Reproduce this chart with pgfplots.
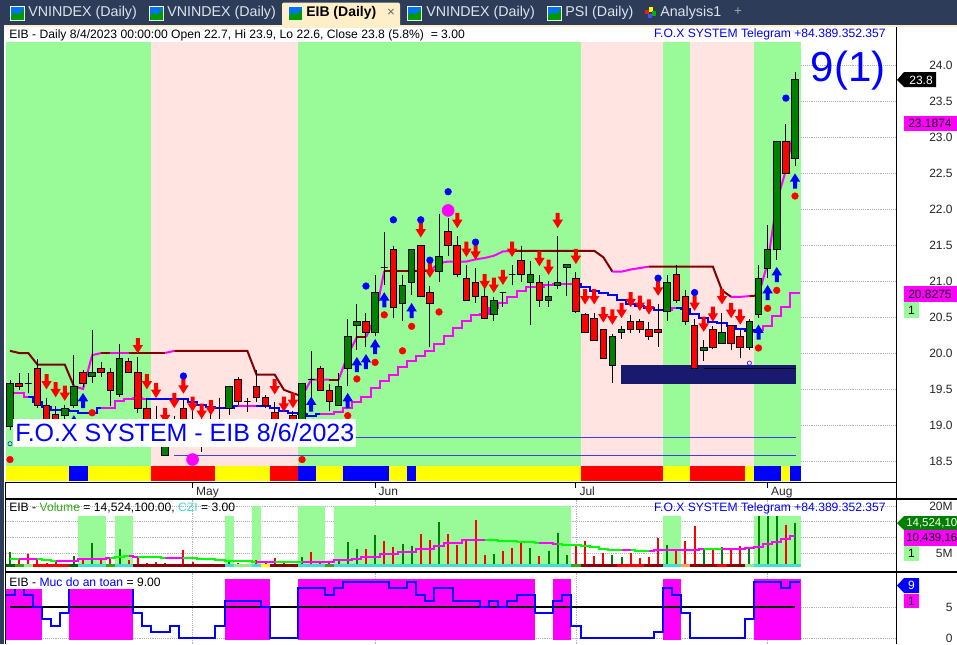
\documentclass[border=0pt]{standalone}
\usepackage{fontspec}
\setmainfont{Liberation Sans}
\usepackage{pgfplots}
\pgfplotsset{compat=1.18}
\definecolor{magenta}{RGB}{255,0,255}
\definecolor{yellow}{RGB}{255,255,0}
\definecolor{red}{RGB}{255,0,0}
\definecolor{blue}{RGB}{0,0,255}
\definecolor{green}{RGB}{0,255,0}
\definecolor{bandg}{RGB}{152,251,152}
\definecolor{bandp}{RGB}{255,228,225}
\definecolor{cgreen}{RGB}{0,128,0}
\definecolor{dred}{RGB}{128,0,0}
\definecolor{navyb}{RGB}{25,25,112}
\definecolor{teal2}{RGB}{64,224,208}
\definecolor{dgreen}{RGB}{0,100,0}
\definecolor{mgreen}{RGB}{50,170,20}
\definecolor{lgreen}{RGB}{144,238,144}
\definecolor{ddred}{RGB}{139,0,0}
\definecolor{orange2}{RGB}{255,160,80}
\definecolor{tabbar}{RGB}{45,60,88}
\definecolor{tabtxt}{RGB}{222,228,238}
\definecolor{creamt}{RGB}{255,239,200}
\definecolor{linec}{RGB}{64,64,224}
\pgfdeclareplotmark{dnarr}{\pgfpathmoveto{\pgfqpoint{-1.5pt}{5.7pt}}\pgfpathlineto{\pgfqpoint{1.5pt}{5.7pt}}\pgfpathlineto{\pgfqpoint{1.5pt}{0.6pt}}\pgfpathlineto{\pgfqpoint{3.9pt}{0.6pt}}\pgfpathlineto{\pgfqpoint{0pt}{-5.7pt}}\pgfpathlineto{\pgfqpoint{-3.9pt}{0.6pt}}\pgfpathlineto{\pgfqpoint{-1.5pt}{0.6pt}}\pgfpathclose\pgfusepathqfill}
\pgfdeclareplotmark{uparr}{\pgfpathmoveto{\pgfqpoint{-1.5pt}{-5.7pt}}\pgfpathlineto{\pgfqpoint{1.5pt}{-5.7pt}}\pgfpathlineto{\pgfqpoint{1.5pt}{-0.6pt}}\pgfpathlineto{\pgfqpoint{3.9pt}{-0.6pt}}\pgfpathlineto{\pgfqpoint{0pt}{5.7pt}}\pgfpathlineto{\pgfqpoint{-3.9pt}{-0.6pt}}\pgfpathlineto{\pgfqpoint{-1.5pt}{-0.6pt}}\pgfpathclose\pgfusepathqfill}
\newcommand{\band}[5]{\addplot[fill=#5,draw=none,forget plot] coordinates {(#1,#3)(#2,#3)(#2,#4)(#1,#4)} -- cycle;}
\newcommand{\cbody}[6]{% i o h l c color
  \addplot[black,line width=.75pt,forget plot] coordinates {(#1,#4)(#1,#3)};
  \pgfmathsetmacro\xa{#1-0.36}\pgfmathsetmacro\xb{#1+0.36}
  \edef\temp{\noexpand\addplot[fill=#6,draw=black,line width=.75pt,forget plot] coordinates {(\xa,#2)(\xb,#2)(\xb,#5)(\xa,#5)} -- cycle;}\temp}
\newcommand{\U}[5]{\cbody{#1}{#2}{#3}{#4}{#5}{cgreen}}
\newcommand{\D}[5]{\cbody{#1}{#2}{#3}{#4}{#5}{red}}
\newcommand{\ltab}[2]{\node[anchor=west,inner sep=0pt,text=tabtxt,font=\fontsize{10.7}{12}\selectfont] at (#1,13) {#2};}
\newcommand{\icon}[1]{\fill[white] (#1,6) rectangle ++(15,15);\fill[blue!55!cyan] (#1+1,7) rectangle ++(13,13);\fill[green!60!black] (#1+1,20)--(#1+1,16)--(#1+5,12)--(#1+8,15)--(#1+14,9)--(#1+14,20)--cycle;}
\pgfplotsset{pane/.style={scale only axis,width=667.5pt,xmin=-0.4382,xmax=97.064,
  axis x line*=bottom,axis y line*=right,axis line style={-,black,line width=.75pt},
  ymajorgrids,grid style={densely dotted,gray!60,line width=.6pt},
  major tick length=0pt,xtick={20,40,62,83},
  tick label style={font=\fontsize{9}{11}\selectfont,text=black!85},
  yticklabel style={anchor=east,xshift=46pt},clip=true}}
\begin{document}
\begin{tikzpicture}
\path[use as bounding box] (0,0) rectangle (717.75pt,-483pt);
\fill[white] (0,0) rectangle (717.75pt,-483pt);
%---------- price pane
\begin{axis}[pane,at={(4.5pt,-361.5pt)},anchor=south west,height=342pt,
  ymin=18.2083,ymax=24.5417,ytick={18.5,19,19.5,20,20.5,21,21.5,22,22.5,23,23.5,24},
  yticklabels={18.5,19.0,19.5,20.0,20.5,21.0,21.5,22.0,22.5,23.0,23.5,24.0},
  xticklabels={May,Jun,Jul,Aug},
  major tick length=4.5pt,tick align=outside,
  x tick style={black,line width=.75pt},y tick style={draw=none},
  yticklabel style={xshift=-4.5pt},
  xticklabel style={anchor=north west,inner sep=1pt,xshift=1.5pt,yshift=2pt}]
\band{-0.5}{15.5}{18.43}{24.32}{bandg}
\band{15.5}{31.5}{18.43}{24.32}{bandp}
\band{31.5}{62.5}{18.43}{24.32}{bandg}
\band{62.5}{71.5}{18.43}{24.32}{bandp}
\band{71.5}{74.5}{18.43}{24.32}{bandg}
\band{74.5}{81.5}{18.43}{24.32}{bandp}
\band{81.5}{86.66}{18.43}{24.32}{bandg}
% bottom colour strip
\band{-0.5}{6.5}{18.22}{18.43}{yellow}
\band{6.5}{8.5}{18.22}{18.43}{blue}
\band{8.5}{15.5}{18.22}{18.43}{yellow}
\band{15.5}{22.5}{18.22}{18.43}{red}
\band{22.5}{28.5}{18.22}{18.43}{yellow}
\band{28.5}{31.5}{18.22}{18.43}{red}
\band{31.5}{33.5}{18.22}{18.43}{blue}
\band{33.5}{36.5}{18.22}{18.43}{yellow}
\band{36.5}{41.5}{18.22}{18.43}{blue}
\band{41.5}{43.5}{18.22}{18.43}{yellow}
\band{43.5}{44.5}{18.22}{18.43}{blue}
\band{44.5}{62.5}{18.22}{18.43}{yellow}
\band{62.5}{71.5}{18.22}{18.43}{red}
\band{71.5}{74.5}{18.22}{18.43}{yellow}
\band{74.5}{80.5}{18.22}{18.43}{red}
\band{80.5}{81.5}{18.22}{18.43}{yellow}
\band{81.5}{84.5}{18.22}{18.43}{blue}
\band{84.5}{85.5}{18.22}{18.43}{yellow}
\band{85.5}{86.66}{18.22}{18.43}{blue}
% thin level lines
\addplot[linec,line width=.75pt] coordinates {(18,18.83)(86.1,18.83)};
\addplot[linec,line width=.75pt] coordinates {(18,18.58)(86.1,18.58)};
\addplot[only marks,mark=o,blue,mark size=1.6pt] coordinates {(0,18.74)(81,19.86)};
\band{66.9}{86.1}{19.57}{19.83}{navyb}
\addplot[black!70!navyb,line width=.75pt] coordinates {(76,19.79)(86.1,19.79)};
% upper line
\addplot[dred,line width=1.5pt] coordinates {(0,20.03)(1,20)(2,20)(3,19.84)(4,19.84)(5,19.84)(6,19.84)(7,19.54)};
\addplot[magenta,line width=1.5pt] coordinates {(7,19.54)(8,19.5)(9,19.97)(10,20)};
\addplot[dred,line width=1.5pt] coordinates {(10,20)(11,20)};
\addplot[magenta,line width=1.5pt] coordinates {(11,20)(13,20)};
\addplot[dred,line width=1.5pt] coordinates {(13,20)(17,20)};
\addplot[magenta,line width=1.5pt] coordinates {(17,20)(18,20.03)};
\addplot[dred,line width=1.5pt] coordinates {(18,20.03)(26,20.03)(27,19.70)(28,19.70)(29,19.70)(30,19.49)(31,19.44)(32,19.40)};
\addplot[magenta,line width=1.5pt] coordinates {(32,19.40)(33,19.63)(34,19.63)(35,19.63)};
\addplot[dred,line width=1.5pt] coordinates {(35,19.63)(36,19.63)};
\addplot[magenta,line width=1.5pt] coordinates {(36,19.63)(37,19.97)(38,20.22)};
\addplot[dred,line width=1.5pt] coordinates {(38,20.22)(39,20.22)};
\addplot[magenta,line width=1.5pt] coordinates {(39,20.22)(40,20.5)(41,21.14)};
\addplot[dred,line width=1.5pt] coordinates {(41,21.14)(46,21.14)};
\addplot[magenta,line width=1.5pt] coordinates {(46,21.14)(47,21.25)(48,21.27)(49,21.27)(50,21.27)(51,21.30)(52,21.32)(53,21.35)(54,21.41)(55,21.42)};
\addplot[dred,line width=1.5pt] coordinates {(55,21.42)(64,21.42)(65,21.33)(66,21.13)};
\addplot[magenta,line width=1.5pt] coordinates {(66,21.13)(67,21.13)(68,21.16)(69,21.18)(70,21.20)};
\addplot[dred,line width=1.5pt] coordinates {(70,21.2)(77,21.2)(78,20.87)(79,20.78)};
\addplot[magenta,line width=1.5pt] coordinates {(79,20.78)(80,20.78)(81,20.79)};
\addplot[dred,line width=1.5pt] coordinates {(81,20.79)(82,20.80)};
\addplot[magenta,line width=1.5pt] coordinates {(82,20.8)(83,21.25)(84,22.1)(85,22.54)(86,23.187)};
% lower staircase
\addplot[magenta,line width=1.5pt,const plot mark mid] coordinates {(-0.5,19.44)(0,19.44)(1,19.44)(2,19.39)};
\addplot[blue,line width=1.5pt,const plot mark mid] coordinates {(2,19.39)(3,19.32)(4,19.25)(5,19.21)(6,19.21)(7,19.19)(8,19.17)(9,19.17)(10,19.23)};
\addplot[magenta,line width=1.5pt,const plot mark mid] coordinates {(10,19.23)(11,19.23)(12,19.33)(13,19.36)(14,19.37)(15,19.36)};
\addplot[blue,line width=1.5pt,const plot mark mid] coordinates {(15,19.36)(16,19.36)(17,19.36)(18,19.36)(19,19.36)(20,19.315)(21,19.28)(22,19.255)(23,19.235)(24,19.235)(25,19.26)};
\addplot[magenta,line width=1.5pt,const plot mark mid] coordinates {(25,19.26)(26,19.26)(27,19.26)};
\addplot[blue,line width=1.5pt,const plot mark mid] coordinates {(27,19.26)(28,19.26)(29,19.23)(30,19.19)(31,19.16)(32,19.15)(33,19.13)(34,19.15)};
\addplot[magenta,line width=1.5pt,const plot mark mid] coordinates {(34,19.15)(35,19.15)(36,19.18)(37,19.23)(38,19.32)(39,19.39)(40,19.51)(41,19.61)(42,19.69)(43,19.80)(44,19.89)(45,19.96)(46,20.03)(47,20.12)(48,20.24)(49,20.35)(50,20.45)(51,20.53)(52,20.54)(53,20.63)(54,20.69)(55,20.78)(56,20.86)(57,20.91)(58,20.91)(59,20.94)(60,20.96)(61,20.96)(62,20.96)};
\addplot[blue,line width=1.5pt,const plot mark mid] coordinates {(62,20.96)(63,20.92)(64,20.86)(65,20.83)(66,20.80)(67,20.74)(68,20.68)(69,20.65)(70,20.63)(71,20.6)(72,20.6)};
\addplot[magenta,line width=1.5pt,const plot mark mid] coordinates {(72,20.6)(73,20.63)};
\addplot[blue,line width=1.5pt,const plot mark mid] coordinates {(73,20.63)(74,20.61)(75,20.54)(76,20.48)(77,20.43)(78,20.42)(79,20.37)(80,20.34)(81,20.30)(82,20.32)};
\addplot[magenta,line width=1.5pt,const plot mark mid] coordinates {(82,20.32)(83,20.375)(84,20.51)(85,20.64)(86,20.8275)(86.6,20.8275)};
% candles
\U{0}{18.98}{19.63}{18.93}{19.58}
\D{1}{19.58}{19.72}{19.49}{19.53}
\D{2}{19.58}{19.72}{19.44}{19.58}
\D{3}{19.79}{19.91}{19.24}{19.27}
\D{4}{19.27}{19.37}{18.95}{19.0}
\D{5}{19.14}{19.26}{18.95}{19.0}
\U{6}{19.13}{19.28}{19.05}{19.23}
\U{7}{19.27}{19.97}{19.24}{19.54}
\D{8}{19.73}{19.77}{19.53}{19.57}
\U{9}{19.67}{20.32}{19.58}{19.73}
\D{10}{19.79}{19.87}{19.67}{19.73}
\D{11}{19.73}{19.79}{19.27}{19.48}
\U{12}{19.43}{20.12}{19.39}{19.93}
\D{13}{19.88}{19.93}{19.73}{19.73}
\D{14}{19.73}{19.95}{19.16}{19.23}
\D{15}{19.23}{19.37}{18.9}{18.95}
\D{16}{19.0}{19.26}{18.85}{19.0}
\U{17}{18.57}{19.23}{18.57}{19.0}
\D{18}{19.0}{19.12}{18.85}{18.92}
\D{19}{19.23}{19.37}{18.85}{18.95}
\D{20}{19.0}{19.29}{18.7}{18.92}
\D{21}{19.0}{19.29}{18.63}{18.9}
\D{22}{19.0}{19.32}{18.69}{18.92}
\D{23}{19.0}{19.37}{18.75}{18.92}
\U{24}{19.23}{19.53}{19.14}{19.53}
\D{25}{19.63}{19.67}{19.28}{19.32}
\D{26}{19.32}{19.37}{19.18}{19.32}
\D{27}{19.53}{19.77}{19.32}{19.38}
\D{28}{19.38}{19.42}{19.23}{19.27}
\D{29}{19.18}{19.32}{18.95}{19.0}
\D{30}{19.02}{19.08}{18.9}{18.95}
\D{31}{19.13}{19.2}{18.9}{18.95}
\U{32}{18.72}{19.58}{18.72}{19.58}
\D{33}{19.63}{20.03}{19.35}{19.63}
\D{34}{19.79}{19.82}{19.48}{19.48}
\D{35}{19.48}{19.57}{19.19}{19.32}
\U{36}{19.27}{19.72}{19.27}{19.54}
\U{37}{19.79}{20.47}{19.54}{20.23}
\U{38}{20.38}{20.68}{20.04}{20.44}
\D{39}{20.44}{20.56}{20.09}{20.28}
\U{40}{20.28}{21.08}{20.23}{20.84}
\D{41}{21.19}{21.68}{20.95}{21.19}
\D{42}{21.44}{21.49}{20.49}{20.63}
\U{43}{20.69}{21.08}{20.45}{20.94}
\U{44}{20.98}{21.44}{20.80}{21.44}
\D{45}{21.49}{21.5}{20.78}{20.78}
\D{46}{20.84}{20.93}{20.09}{20.69}
\U{47}{21.13}{21.93}{20.99}{21.34}
\D{48}{21.69}{21.87}{21.35}{21.49}
\D{49}{21.49}{21.62}{21.05}{21.09}
\D{50}{21.04}{21.22}{20.73}{20.73}
\D{51}{20.98}{21.18}{20.70}{20.78}
\D{52}{20.79}{20.92}{20.48}{20.48}
\U{53}{20.53}{20.78}{20.45}{20.73}
\D{54}{20.84}{20.84}{20.64}{20.84}
\D{55}{21.09}{21.22}{20.94}{21.09}
\D{56}{21.29}{21.49}{20.99}{21.09}
\U{57}{20.98}{21.28}{20.39}{21.09}
\D{58}{20.98}{21.08}{20.64}{20.73}
\U{59}{20.73}{21.0}{20.64}{20.79}
\U{60}{20.94}{21.62}{20.89}{20.98}
\U{61}{21.19}{21.23}{20.79}{21.23}
\D{62}{21.04}{21.12}{20.55}{20.57}
\D{63}{20.54}{20.56}{20.28}{20.28}
\D{64}{20.48}{20.56}{20.18}{20.18}
\D{65}{20.33}{20.33}{19.92}{19.92}
\U{66}{19.82}{20.27}{19.59}{20.23}
\U{67}{20.28}{20.37}{20.2}{20.33}
\D{68}{20.44}{20.53}{20.28}{20.32}
\D{69}{20.44}{20.47}{20.28}{20.32}
\D{70}{20.33}{20.43}{20.18}{20.23}
\D{71}{20.33}{20.68}{20.09}{20.28}
\U{72}{20.57}{21.08}{20.45}{20.98}
\D{73}{21.09}{21.22}{20.70}{20.73}
\D{74}{20.79}{20.87}{20.39}{20.44}
\D{75}{20.38}{20.47}{19.79}{19.79}
\U{76}{20.03}{20.18}{19.89}{20.08}
\D{77}{20.33}{20.37}{20.05}{20.07}
\U{78}{20.13}{20.56}{20.13}{20.29}
\D{79}{20.38}{20.38}{20.04}{20.13}
\D{80}{20.23}{20.32}{19.93}{20.07}
\U{81}{20.07}{20.47}{20.04}{20.44}
\U{82}{20.53}{21.22}{20.49}{21.04}
\U{83}{21.18}{21.78}{21.04}{21.44}
\U{84}{21.44}{22.94}{21.29}{22.94}
\D{85}{22.94}{23.18}{22.49}{22.49}
\U{86}{22.7}{23.9}{22.6}{23.8}
% arrows and dots
\addplot[only marks,mark=dnarr,red] coordinates {(4,19.60)(5,19.49)(6,19.44)(14,20.10)(15,19.60)(16,19.48)(17,19.13)(18,19.34)(19,19.54)(20,19.29)(21,19.19)(22,19.24)(29,19.53)(30,19.29)(31,19.34)(45,21.71)(46,21.15)(49,21.84)(50,21.44)(51,21.40)(52,20.99)(53,20.94)(54,21.05)(55,21.44)(58,21.31)(59,21.19)(60,21.84)(62,21.34)(63,20.78)(64,20.78)(65,20.53)(66,20.50)(67,20.59)(68,20.74)(69,20.69)(70,20.64)(71,20.90)(75,20.69)(76,20.40)(77,20.54)(78,20.78)(79,20.59)(80,20.50)};
\addplot[only marks,mark=uparr,blue] coordinates {(7,19.03)(8,19.34)(33,19.29)(37,19.34)(38,19.84)(39,19.88)(40,20.09)(41,20.74)(44,20.59)(82,20.29)(83,20.84)(84,21.09)(86,22.39)};
\addplot[only marks,mark=*,mark size=2.5pt,blue] coordinates {(19,19.68)(39,20.93)(42,21.85)(45,21.85)(46,21.29)(48,22.24)(51,21.54)(71,21.04)(75,20.84)(85,23.54)};
\addplot[only marks,mark=*,mark size=2.5pt,red] coordinates {(0,18.52)(9,19.17)(32,18.52)(37,19.13)(38,19.64)(40,19.87)(41,20.53)(43,20.03)(44,20.37)(47,20.57)(82,20.07)(83,20.62)(84,20.87)(86,22.18)};
\addplot[only marks,mark=*,mark size=4.5pt,magenta] coordinates {(20,18.52)(48,21.98)};
\end{axis}
%---------- volume pane
\begin{axis}[pane,at={(4.5pt,-428.25pt)},anchor=south west,height=53.25pt,
  ymin=-0.635,ymax=21.9,ytick={5,10,15,20},yticklabels={5M,10M,15M,20M},
  x axis line style={draw=none},
  xticklabels={},xmajorgrids]
\band{7.5}{10.5}{1.587}{16.8}{bandg}
\band{11.5}{13.5}{1.587}{16.8}{bandg}
\band{23.5}{24.5}{1.587}{16.8}{bandg}
\band{26.5}{27.5}{1.587}{20}{bandg}
\band{31.5}{34.5}{1.587}{20}{bandg}
\band{35.5}{61.5}{1.587}{20}{bandg}
\band{71.5}{73.5}{1.587}{16.8}{bandg}
\band{81.5}{86.66}{1.587}{16.8}{bandg}
\addplot[ycomb,cgreen,line width=1.5pt] coordinates {(0,5.4)(6,1.7)(7,4.1)(9,8.25)(12,6.24)(17,1.8)(18,1.5)(22,1.4)(24,2.33)(32,3.8)(36,2.75)(37,8.57)(38,6.45)(40,10.8)(43,7.9)(44,7.3)(47,14.9)(53,4.76)(57,6.67)(59,5.7)(60,11.4)(61,4.44)(66,4.44)(67,3.8)(72,7.6)(76,6.35)(78,7.0)(81,7.0)(82,16.8)(83,16.8)(84,16.8)(86,14.52)};
\addplot[ycomb,red,line width=1.5pt] coordinates {(1,3.07)(2,4.76)(3,3.28)(4,1.8)(5,2.5)(8,3.4)(10,3.07)(11,3.6)(13,2.85)(14,3.4)(15,1.8)(16,2.2)(19,6.03)(20,2.33)(21,1.4)(23,1.7)(25,1.9)(26,1.27)(27,2.85)(28,1.9)(29,3.5)(30,1.8)(31,1.5)(33,5.4)(34,2.65)(35,2.1)(39,6.45)(41,8.9)(42,7.0)(45,11.1)(46,9.2)(48,11.1)(49,7.6)(50,9.5)(51,15.5)(52,4.44)(54,5.7)(55,6.67)(56,8.57)(58,4.1)(62,7.6)(63,8.9)(64,4.1)(65,5.08)(68,5.08)(69,3.5)(70,3.8)(71,9.84)(73,6.35)(74,8.9)(75,13.65)(77,6.35)(79,6.03)(80,7.3)(85,14.0)};
% moving average of volume
\addplot[green,line width=1.5pt,const plot mark mid] coordinates {(0,3.07)(1,3.07)};
\addplot[magenta,line width=1.5pt,const plot mark mid] coordinates {(1,3.07)(2,3.07)(3,3.07)};
\addplot[green,line width=1.5pt,const plot mark mid] coordinates {(3,3.07)(4,2.85)(5,2.5)};
\addplot[magenta,line width=1.5pt,const plot mark mid] coordinates {(5,2.5)(6,2.65)(7,2.65)(8,3.07)(9,3.28)(10,3.28)(11,3.6)};
\addplot[green,line width=1.5pt,const plot mark mid] coordinates {(11,3.6)(12,3.9)(13,4.0)};
\addplot[magenta,line width=1.5pt,const plot mark mid] coordinates {(13,4.0)(14,3.7)};
\addplot[green,line width=1.5pt,const plot mark mid] coordinates {(14,3.7)(15,3.7)(16,3.7)(17,3.38)};
\addplot[magenta,line width=1.5pt,const plot mark mid] coordinates {(17,3.38)(18,3.38)(19,3.6)};
\addplot[green,line width=1.5pt,const plot mark mid] coordinates {(19,3.6)(20,3.6)(21,3.28)(22,3.28)(23,2.96)(24,2.65)(25,2.65)(26,2.43)(27,2.33)};
\addplot[magenta,line width=1.5pt,const plot mark mid] coordinates {(27,2.33)(28,2.33)(29,2.22)};
\addplot[green,line width=1.5pt,const plot mark mid] coordinates {(29,2.22)(30,2.22)(31,2.22)(32,2.22)};
\addplot[magenta,line width=1.5pt,const plot mark mid] coordinates {(32,2.22)(33,2.22)(34,2.22)(35,2.33)(36,2.85)(37,2.85)(38,3.28)(39,3.8)(40,3.8)(41,4.76)(42,4.76)(43,5.4)(44,5.4)(45,6.24)(46,6.24)(47,7.4)(48,8.25)(49,8.25)(50,9.2)(51,9.2)(52,9.2)};
\addplot[green,line width=1.5pt,const plot mark mid] coordinates {(52,9.2)(53,9.2)(54,8.9)(55,8.9)(56,8.57)(57,8.57)(58,8.25)};
\addplot[magenta,line width=1.5pt,const plot mark mid] coordinates {(58,8.25)(59,8.25)(60,7.93)};
\addplot[green,line width=1.5pt,const plot mark mid] coordinates {(60,7.93)(61,7.6)(62,7.6)(63,7.3)(64,7.0)(65,6.5)(66,6.03)(67,6.03)};
\addplot[magenta,line width=1.5pt,const plot mark mid] coordinates {(67,6.03)(68,6.03)};
\addplot[green,line width=1.5pt,const plot mark mid] coordinates {(68,6.03)(69,5.7)(70,5.7)};
\addplot[magenta,line width=1.5pt,const plot mark mid] coordinates {(70,5.7)(71,6.03)(72,6.03)(73,6.03)(74,6.03)(75,6.03)(76,6.45)};
\addplot[green,line width=1.5pt,const plot mark mid] coordinates {(76,6.45)(77,6.45)(78,6.45)};
\addplot[magenta,line width=1.5pt,const plot mark mid] coordinates {(78,6.45)(79,6.45)(80,6.45)(81,6.67)(82,7.1)(83,7.93)(84,8.57)(85,9.5)(86,10.44)};
% base strip
\band{-0.5}{0.5}{0.635}{1.587}{dgreen}
\band{0.5}{1.5}{0.635}{1.587}{mgreen}
\band{1.5}{2.5}{0.635}{1.587}{lgreen}
\band{2.5}{6.5}{0.635}{1.587}{red}
\band{6.5}{7.5}{0.635}{1.587}{dgreen}
\band{7.5}{10.5}{0.635}{1.587}{teal2}
\band{10.5}{11.5}{0.635}{1.587}{mgreen}
\band{11.5}{13.5}{0.635}{1.587}{teal2}
\band{13.5}{23.5}{0.635}{1.587}{ddred}
\band{23.5}{24.5}{0.635}{1.587}{teal2}
\band{24.5}{26.5}{0.635}{1.587}{lgreen}
\band{26.5}{27.5}{0.635}{1.587}{teal2}
\band{27.5}{28.5}{0.635}{1.587}{yellow}
\band{28.5}{31.5}{0.635}{1.587}{ddred}
\band{31.5}{34.5}{0.635}{1.587}{teal2}
\band{34.5}{35.5}{0.635}{1.587}{mgreen}
\band{35.5}{61.5}{0.635}{1.587}{teal2}
\band{61.5}{62.5}{0.635}{1.587}{mgreen}
\band{62.5}{66.5}{0.635}{1.587}{ddred}
\band{66.5}{69.5}{0.635}{1.587}{red}
\band{69.5}{71.5}{0.635}{1.587}{ddred}
\band{71.5}{73.5}{0.635}{1.587}{teal2}
\band{73.5}{74.5}{0.635}{1.587}{orange2}
\band{74.5}{77.5}{0.635}{1.587}{ddred}
\band{77.5}{78.5}{0.635}{1.587}{red}
\band{78.5}{80.5}{0.635}{1.587}{ddred}
\band{80.5}{81.5}{0.635}{1.587}{lgreen}
\band{81.5}{86.66}{0.635}{1.587}{teal2}
\band{-0.5}{86.66}{-0.6}{0.635}{white}
\end{axis}
%---------- safety level pane
\begin{axis}[pane,at={(4.5pt,-483pt)},anchor=south west,height=53.25pt,
  ymin=-0.968,ymax=10.48,ytick={0,5},yticklabels={0,5},
  x axis line style={draw=none},
  xticklabels={},xmajorgrids]
\band{-0.5}{3.5}{-0.27}{9.5}{magenta}
\band{6.5}{13.5}{-0.27}{9.5}{magenta}
\band{23.5}{28.5}{-0.27}{9.5}{magenta}
\band{31.5}{57.5}{-0.27}{9.5}{magenta}
\band{59.5}{61.5}{-0.27}{9.5}{magenta}
\band{71.5}{73.5}{-0.27}{9.5}{magenta}
\band{81.5}{86.66}{-0.27}{9.5}{magenta}
\addplot[black,line width=1.5pt] coordinates {(0,5)(86,5)};
\addplot[blue,line width=1.5pt,const plot mark mid] coordinates {(-0.5,7)(0,7)(1,8)(2,7)(3,5)(4,3)(5,2)(6,4)(7,8)(8,8)(9,8)(10,8)(11,8)(12,8)(13,8)(14,4)(15,2)(16,1)(17,1)(18,2)(19,0)(20,0)(21,0)(22,0)(23,2)(24,6)(25,6)(26,6)(27,6)(28,5)(29,0)(30,0)(31,0)(32,8)(33,8)(34,8)(35,7)(36,8)(37,9)(38,9)(39,9)(40,9)(41,9)(42,8)(43,8)(44,9)(45,7)(46,6)(47,8)(48,8)(49,6)(50,6)(51,6)(52,5)(53,6)(54,5)(55,6)(56,7)(57,7)(58,4)(59,4)(60,6)(61,7)(62,2)(63,0)(64,0)(65,0)(66,0)(67,0)(68,0)(69,0)(70,0)(71,1)(72,8)(73,7)(74,4)(75,0)(76,0)(77,0)(78,0)(79,0)(80,0)(81,3)(82,9)(83,9)(84,9)(85,8)(86,9)(86.6,9)};
\end{axis}
%---------- window furniture and texts
\begin{scope}[x=.75pt,y=-.75pt]
\fill[tabbar] (0,0) rectangle (957,25);
\fill[tabbar] (0,0) rectangle (4,644);
\fill[creamt] (4,25) rectangle (957,27);
\draw[black,line width=.75pt] (896,27)--(896,644);
\draw[black,line width=.75pt] (6,482)--(896,482);
\draw[black,line width=.9pt] (5,499)--(957,499);
\draw[black,line width=.9pt] (5,572)--(957,572);
\draw[black,line width=.75pt] (5.5,482)--(5.5,644);
\fill[creamt,rounded corners=1.5pt] (282,2.5) rectangle (400,28);
\fill[creamt] (282,20) rectangle (400,27);
\icon{10}\icon{149}\icon{288}\icon{407}\icon{547}
\ltab{28}{VNINDEX (Daily)}
\ltab{167}{VNINDEX (Daily)}
\node[anchor=west,inner sep=0pt,font=\fontsize{10.5}{12}\selectfont\bfseries] at (306,13) {EIB (Daily)};
\node[inner sep=0pt,text=black!60,font=\fontsize{10}{11}\selectfont] at (391,12.5) {×};
\ltab{426}{VNINDEX (Daily)}
\ltab{565}{PSI (Daily)}
\fill[red!80!orange] (645,10) rectangle ++(4,4);\fill[yellow] (649,7) rectangle ++(4,5);\fill[green!70!black] (652,11) rectangle ++(4,5);\fill[blue!70] (648,14) rectangle ++(4,4);
\ltab{660}{Analysis1}
\node[inner sep=0pt,text=gray!70,font=\fontsize{10}{11}\selectfont] at (738,12) {+};
% header lines
\fill[white] (6,28) rectangle (896,42);
\node[anchor=west,inner sep=0pt,font=\fontsize{9.1}{11}\selectfont] at (9,35) {EIB - Daily 8/4/2023 00:00:00 Open 22.7, Hi 23.9, Lo 22.6, Close 23.8 (5.8\%) \ = 3.00};
\node[anchor=east,inner sep=0pt,text=blue,font=\fontsize{9.1}{11}\selectfont] at (886,34) {F.O.X SYSTEM Telegram +84.389.352.357};
\node[inner sep=0pt,text=blue,font=\fontsize{31.5}{34}\selectfont] at (848,71) {9(1)};
\fill[white] (13,419) rectangle (356,447);
\node[anchor=west,inner sep=0pt,text=blue,font=\fontsize{18.75}{20}\selectfont] at (15,433) {F.O.X SYSTEM - EIB 8/6/2023};
% volume pane texts
\node[anchor=west,inner sep=0pt,font=\fontsize{9.1}{11}\selectfont] at (9,508) {EIB - \textcolor{mgreen}{Volume} = 14,524,100.00, \textcolor{teal2}{CZI} = 3.00};
\node[anchor=east,inner sep=0pt,text=blue,font=\fontsize{9.1}{11}\selectfont] at (886,508) {F.O.X SYSTEM Telegram +84.389.352.357};
\fill[white] (6,576) rectangle (158,589);
\node[anchor=west,inner sep=0pt,font=\fontsize{9.1}{11}\selectfont] at (9,582) {EIB - \textcolor{blue}{Muc do an toan} = 9.00};
% right-hand tags
\fill[black] (897,80)--(904,72)--(936,72)--(936,87)--(904,87)--cycle;
\node[anchor=east,inner sep=0pt,text=white,font=\fontsize{9}{11}\selectfont] at (933,80) {23.8};
\fill[magenta] (904,116) rectangle (957,131);
\node[anchor=west,inner sep=0pt,font=\fontsize{9}{11}\selectfont] at (908,123.5) {23.1874};
\fill[magenta] (904,286) rectangle (957,302);
\node[anchor=west,inner sep=0pt,font=\fontsize{9}{11}\selectfont] at (908,294) {20.8275};
\fill[bandg] (904,302) rectangle (919,318);
\node[inner sep=0pt,font=\fontsize{9}{11}\selectfont] at (911.5,310) {1};
\fill[cgreen] (897,523)--(904,516)--(957,516)--(957,530)--(904,530)--cycle;
\node[anchor=west,inner sep=0pt,text=white,font=\fontsize{8.6}{9}\selectfont] at (906,523) {14,524,10};
\fill[magenta] (904,530) rectangle (957,546);
\node[anchor=west,inner sep=0pt,font=\fontsize{8.6}{9}\selectfont] at (906,538.5) {10,439,16};
\fill[bandg] (904,546) rectangle (919,561);
\node[inner sep=0pt,font=\fontsize{9}{11}\selectfont] at (911.5,553.5) {1};
\fill[blue] (897,585.5)--(904,578)--(919,578)--(919,593)--(904,593)--cycle;
\node[inner sep=0pt,text=white,font=\fontsize{9}{11}\selectfont] at (911.5,585.5) {9};
\fill[magenta] (904,594) rectangle (919,608);
\node[inner sep=0pt,font=\fontsize{9}{11}\selectfont] at (911.5,601) {1};
\end{scope}
\end{tikzpicture}
\end{document}
